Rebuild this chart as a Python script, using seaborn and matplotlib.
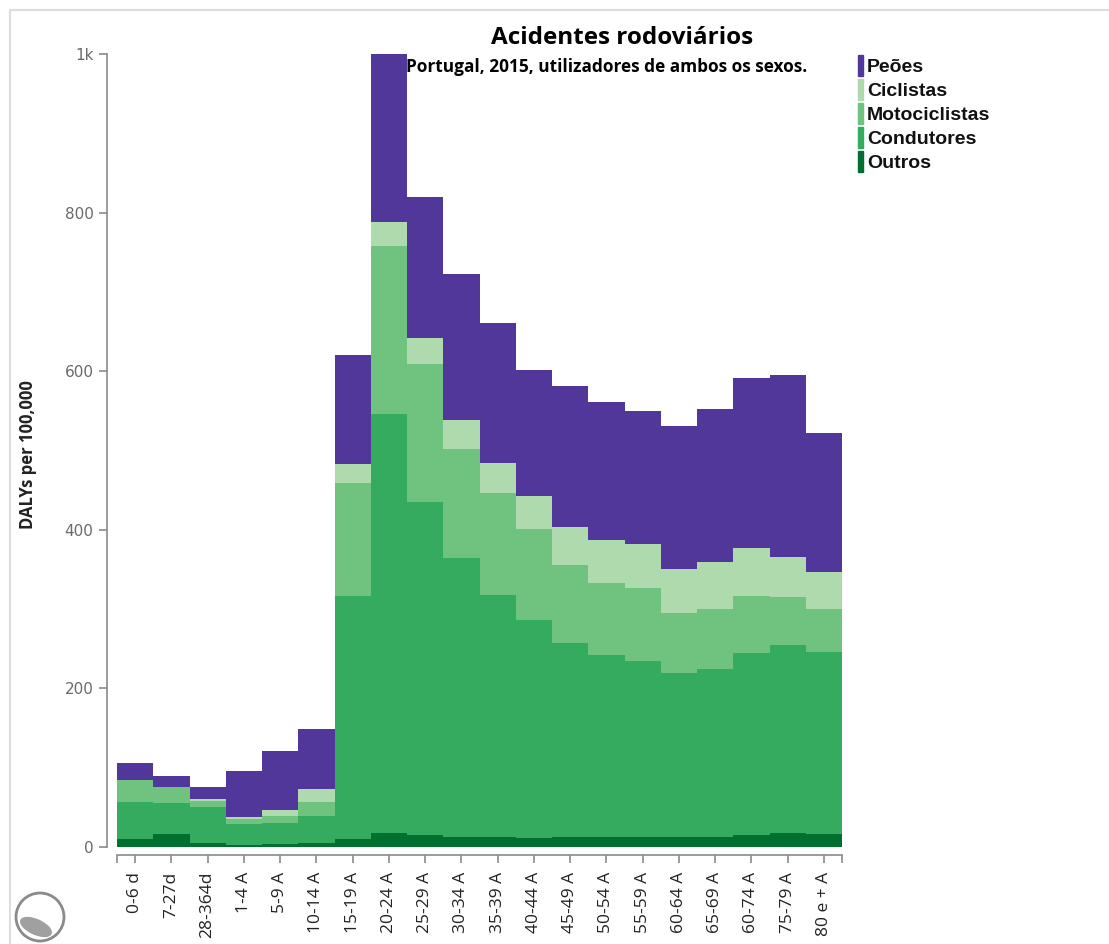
import numpy as np
import pandas as pd
import matplotlib.pyplot as plt
import seaborn as sns
from matplotlib.patches import Rectangle, Ellipse
from matplotlib.lines import Line2D

# age groups (the "60-74 A" label is as in the source chart)
idades = ['0-6 d', '7-27d', '28-364d', '1-4 A', '5-9 A', '10-14 A', '15-19 A', '20-24 A',
          '25-29 A', '30-34 A', '35-39 A', '40-44 A', '45-49 A', '50-54 A', '55-59 A',
          '60-64 A', '65-69 A', '60-74 A', '75-79 A', '80 e + A']

# DALYs per 100,000 by type of road user
outros = [10, 16, 5, 3, 4, 5, 10, 18, 15, 13, 12, 11, 12, 12, 12, 12, 12, 15, 18, 17]
condutores = [47, 39, 45, 26, 26, 34, 307, 528, 420, 351, 306, 275, 245, 230, 223, 207, 213, 230, 237, 229]
motociclistas = [27, 21, 8, 6, 9, 18, 142, 212, 174, 138, 128, 115, 99, 91, 92, 76, 75, 72, 60, 54]
ciclistas = [0, 0, 3, 3, 8, 16, 24, 30, 33, 36, 38, 42, 48, 54, 55, 56, 59, 60, 51, 47]
peoes = [22, 14, 15, 58, 74, 76, 137, 212, 178, 185, 177, 158, 177, 174, 168, 180, 193, 214, 229, 175]

series = ['Outros', 'Condutores', 'Motociclistas', 'Ciclistas', 'Peões']
cores = {'Peões': '#51379a', 'Ciclistas': '#aedaae', 'Motociclistas': '#70c27f',
         'Condutores': '#34ab5f', 'Outros': '#006f30'}

df = pd.DataFrame({'idade': idades, 'Outros': outros, 'Condutores': condutores,
                   'Motociclistas': motociclistas, 'Ciclistas': ciclistas, 'Peões': peoes})
cum = df[series].cumsum(axis=1)
cum['idade'] = df['idade']

sns.set_style('white')
fig = plt.figure(figsize=(11.09, 9.44), dpi=100)
ax = fig.add_axes([117 / 1109, 97 / 944, 725 / 1109, 793 / 944])

# stacked bars: draw cumulative totals from the top segment down
for s in reversed(series):
    sns.barplot(data=cum, x='idade', y=s, order=idades, color=cores[s], saturation=1,
                width=1, linewidth=0, ax=ax)

ax.set_xlim(-0.5, len(idades) - 0.5)
ax.set_ylim(0, 1000)
ax.set_xlabel('')
ax.set_ylabel('')

for side in ['top', 'right']:
    ax.spines[side].set_visible(False)
ax.spines['left'].set_position(('outward', 7))
ax.spines['bottom'].set_position(('outward', 6))
for side in ['left', 'bottom']:
    ax.spines[side].set_color('#8a8a8a')
    ax.spines[side].set_linewidth(1.2)

ax.set_yticks([0, 200, 400, 600, 800, 1000])
ax.set_yticklabels(['0', '200', '400', '600', '800', '1k'])
ax.tick_params(axis='y', left=True, length=6, width=1.2, color='#8a8a8a', pad=4,
               labelsize=11, labelcolor='#6a6a6a')
ax.set_xticks(range(len(idades)))
ax.set_xticklabels(idades, rotation=90, family='Open Sans', fontsize=12.5, color='#222222')
ax.tick_params(axis='x', bottom=True, length=6, width=1.2, color='#8a8a8a', pad=6)
ax.set_xticks([-0.5, len(idades) - 0.5], minor=True)
ax.tick_params(axis='x', which='minor', bottom=True, length=6, width=1.2, color='#8a8a8a')

fig.text(28 / 1109, 1 - 455 / 944, 'DALYs per 100,000', rotation=90, ha='center', va='center',
         family='Open Sans', fontweight='bold', fontsize=12, color='#222222')

fig.text(622 / 1109, 1 - 38 / 944, 'Acidentes rodoviários', ha='center', va='center',
         family='Open Sans', fontweight='bold', fontsize=17.5, color='black')
fig.text(607 / 1109, 1 - 67 / 944, 'Portugal, 2015, utilizadores de ambos os sexos.',
         ha='center', va='center', family='Open Sans', fontweight='bold', fontsize=12.4,
         color='black')

# legend
for i, s in enumerate(reversed(series)):
    y0 = 55 + i * 24
    fig.patches.append(Rectangle((858 / 1109, 1 - (y0 + 21) / 944), 5 / 1109, 21 / 944,
                                 transform=fig.transFigure, color=cores[s]))
    fig.text(867 / 1109, 1 - (y0 + 13) / 944, s, ha='left', va='center',
             family='Liberation Sans', fontweight='bold', fontsize=14, color='#111111')

# page frame
fig.add_artist(Line2D([10 / 1109, 1], [1 - 10 / 944] * 2, transform=fig.transFigure,
                      color='#dddddd', lw=1.5))
fig.add_artist(Line2D([10 / 1109] * 2, [0, 1 - 10 / 944], transform=fig.transFigure,
                      color='#dddddd', lw=1.5))

# logo at bottom left
lx, ly = 40 / 1109, 1 - 917 / 944
fig.patches.append(Ellipse((lx, ly), 48 / 1109, 48 / 944, transform=fig.transFigure,
                           fill=False, edgecolor='#8a8a8a', lw=2))
fig.patches.append(Ellipse((lx - 4 / 1109, ly - 10 / 944), 34 / 1109, 14 / 944, angle=-30,
                           transform=fig.transFigure, color='#a0a0a0'))

plt.savefig('out.png', dpi=100)
